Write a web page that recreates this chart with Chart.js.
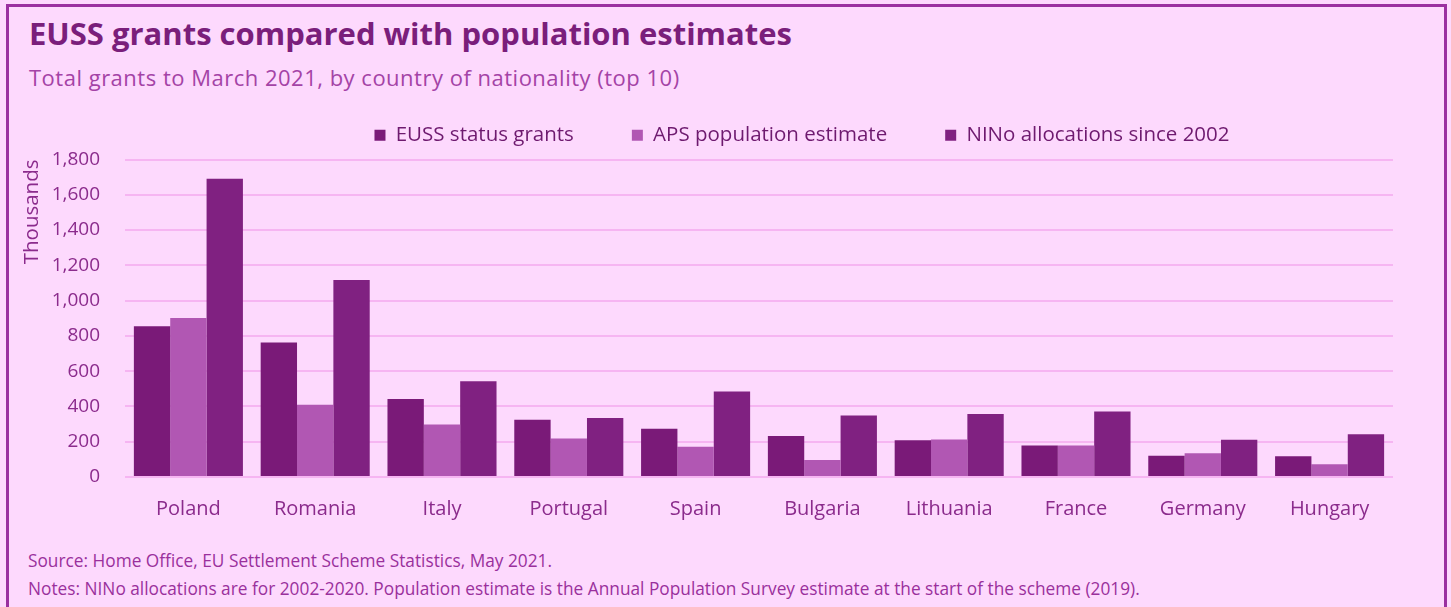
<!DOCTYPE html>
<html>
<head>
<meta charset="utf-8">
<script src="https://cdn.jsdelivr.net/npm/chart.js@4.4.1/dist/chart.umd.min.js"></script>
<style>
  html, body { margin: 0; padding: 0; width: 1451px; height: 607px; overflow: hidden; background: #fdd9fd; }
  #frame { position: absolute; left: 6px; top: 4px; width: 1435px; height: 700px; border: 3px solid #9b2fa0; border-bottom: none; }
  .txt { position: absolute; white-space: nowrap; }
  #title { left: 29px; top: 12px; font: 700 31px "Open Sans", sans-serif; color: #7a1e7b; }
  #subtitle { left: 29px; top: 62px; font: 400 22px "Open Sans", sans-serif; color: #a443a6; letter-spacing: 0.5px; }
  .foot { left: 28px; font: 400 17.3px "Open Sans", sans-serif; color: #9a309c; letter-spacing: 0; }
  #src { top: 549px; }
  #notes { top: 577px; }
  #wrap { position: absolute; left: 0; top: 71px; width: 1451px; height: 469px; }
</style>
</head>
<body>
<div id="frame"></div>
<div class="txt" id="title">EUSS grants compared with population estimates</div>
<div class="txt" id="subtitle">Total grants to March 2021, by country of nationality (top 10)</div>
<div id="wrap"><canvas id="c"></canvas></div>
<div class="txt foot" id="src">Source: Home Office, EU Settlement Scheme Statistics, May 2021.</div>
<div class="txt foot" id="notes">Notes: NINo allocations are for 2002-2020. Population estimate is the Annual Population Survey estimate at the start of the scheme (2019).</div>
<script>
const countries = ["Poland", "Romania", "Italy", "Portugal", "Spain", "Bulgaria", "Lithuania", "France", "Germany", "Hungary"];
const seriesNames = ["EUSS status grants", "APS population estimate", "NINo allocations since 2002"];
const euss = [854, 763, 442, 325, 273, 233, 209, 179, 120, 117];
const aps  = [901, 410, 297, 218, 171, 96, 213, 179, 135, 72];
const nino = [1691, 1117, 543, 335, 485, 348, 357, 371, 211, 243];
const yTicks = [0, 200, 400, 600, 800, 1000, 1200, 1400, 1600, 1800];

const colors = ["#7a1a78", "#b157b3", "#802181"];
const tickColor = "#8b2b8c";

const legendShift = {
  id: 'legendShift',
  afterLayout(chart, args, opts) {
    const l = chart.legend;
    if (!l) return;
    const dx = opts.center - (l.left + l.right) / 2;
    l.left += dx; l.right += dx;
    l.top += opts.dy; l.bottom += opts.dy;
  }
};

new Chart(document.getElementById('c'), {
  type: 'bar',
  data: {
    labels: countries,
    datasets: [euss, aps, nino].map((d, i) => ({
      label: seriesNames[i],
      data: d,
      backgroundColor: colors[i],
      borderWidth: 0,
      categoryPercentage: 0.86,
      barPercentage: 1.0
    }))
  },
  options: {
    responsive: true,
    maintainAspectRatio: false,
    animation: false,
    layout: { padding: { left: 10, right: 58, top: 0, bottom: 0 } },
    plugins: {
      legend: {
        position: 'top',
        labels: {
          boxWidth: 11, boxHeight: 11, padding: 58,
          color: "#6e1a6f",
          font: { family: "Open Sans", size: 20.5 }
        }
      },
      legendShift: { center: 802, dy: -4 },
      tooltip: { enabled: false }
    },
    scales: {
      x: {
        grid: { display: false, drawTicks: false },
        border: { display: false },
        ticks: { color: tickColor, font: { family: "Open Sans", size: 20 }, padding: 20 },
        afterFit(s) { s.height = 63; }
      },
      y: {
        min: 0, max: 1800,
        afterBuildTicks(s) { s.ticks = yTicks.map(v => ({ value: v })); },
        grid: { color: "#f6b5f2", lineWidth: 2, drawTicks: false },
        border: { display: false },
        ticks: {
          color: tickColor, font: { family: "Open Sans", size: 19 }, padding: 25,
          callback: v => v.toLocaleString('en-US')
        },
        title: {
          display: true, text: "Thousands", align: 'end',
          color: tickColor, font: { family: "Open Sans", size: 20.5 },
          padding: { top: 10, bottom: 0 }
        },
        afterFit(s) { s.width = 115; }
      }
    }
  },
  plugins: [legendShift]
});
</script>
</body>
</html>
